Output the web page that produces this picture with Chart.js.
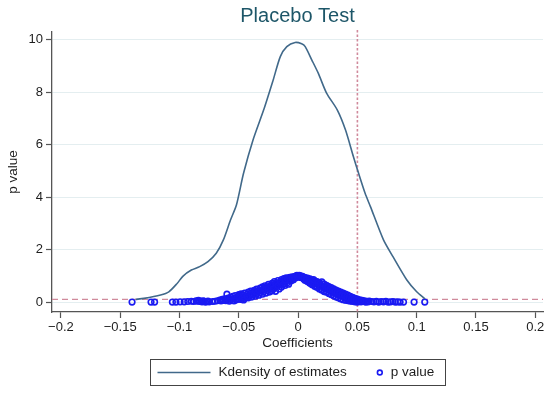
<!DOCTYPE html>
<html>
<head>
<meta charset="utf-8">
<script src="https://cdn.jsdelivr.net/npm/chart.js@4.4.0/dist/chart.umd.min.js"></script>
<style>
  html, body { margin: 0; padding: 0; background: #fff; }
</style>
</head>
<body>
<canvas id="placeboChart" width="550" height="393"></canvas>
<script>
// Kernel density of the placebo estimates
const kdeB = [-0.137, -0.130, -0.116, -0.109, -0.102, -0.097, -0.090, -0.083, -0.076, -0.069,
              -0.063, -0.057, -0.052, -0.046, -0.038, -0.029, -0.021, -0.015, -0.0095, -0.0025,
              0.003, 0.006, 0.0115, 0.017, 0.024, 0.033, 0.040, 0.0466, 0.051, 0.0565,
              0.061, 0.072, 0.080, 0.0917, 0.100, 0.107];
const kdeDensity = [0.10, 0.14, 0.27, 0.39, 0.71, 0.99, 1.22, 1.35, 1.54, 1.86,
                    2.37, 3.13, 3.70, 4.91, 6.18, 7.33, 8.47, 9.36, 9.74, 9.90,
                    9.85, 9.74, 9.24, 8.73, 7.97, 7.33, 6.56, 5.55, 4.91, 4.15,
                    3.64, 2.37, 1.73, 0.84, 0.39, 0.12];

// p values of the placebo estimates
const pB = [-0.140, -0.124, -0.121, -0.106, -0.103, -0.0995, -0.096, -0.093, -0.090, -0.088,
            -0.086, -0.085, -0.084, -0.083, -0.082, -0.081, -0.080, -0.079, -0.078, -0.077,
            -0.076, -0.075, -0.072, -0.070, -0.068, -0.066, -0.065, -0.064, -0.063, -0.062,
            -0.061, -0.060, -0.060, -0.059, -0.058, -0.057, -0.056, -0.055, -0.055, -0.054,
            -0.053, -0.052, -0.051, -0.050, -0.050, -0.049, -0.048, -0.048, -0.047, -0.046,
            -0.045, -0.045, -0.044, -0.043, -0.042, -0.042, -0.041, -0.040, -0.040, -0.039,
            -0.038, -0.037, -0.037, -0.036, -0.035, -0.035, -0.034, -0.033, -0.032, -0.032,
            -0.031, -0.030, -0.030, -0.029, -0.028, -0.028, -0.027, -0.026, -0.026, -0.025,
            -0.024, -0.024, -0.023, -0.022, -0.022, -0.021, -0.020, -0.020, -0.019, -0.018,
            -0.018, -0.017, -0.016, -0.016, -0.015, -0.014, -0.014, -0.013, -0.012, -0.012,
            -0.011, -0.010, -0.010, -0.009, -0.008, -0.008, -0.007, -0.006, -0.006, -0.005,
            -0.004, -0.004, -0.003, -0.002, -0.002, -0.001, 0.000, 0.000, 0.001, 0.002,
            0.002, 0.003, 0.004, 0.004, 0.005, 0.006, 0.006, 0.007, 0.008, 0.008,
            0.009, 0.010, 0.010, 0.011, 0.012, 0.012, 0.013, 0.014, 0.014, 0.015,
            0.016, 0.016, 0.017, 0.018, 0.018, 0.019, 0.020, 0.020, 0.021, 0.022,
            0.022, 0.023, 0.024, 0.024, 0.025, 0.026, 0.026, 0.027, 0.028, 0.028,
            0.029, 0.030, 0.030, 0.031, 0.032, 0.032, 0.033, 0.034, 0.034, 0.035,
            0.036, 0.036, 0.037, 0.038, 0.038, 0.039, 0.040, 0.040, 0.041, 0.042,
            0.042, 0.043, 0.044, 0.044, 0.045, 0.046, 0.046, 0.047, 0.048, 0.048,
            0.049, 0.050, 0.050, 0.051, 0.052, 0.053, 0.054, 0.055, 0.056, 0.057,
            0.058, 0.059, 0.060, 0.062, 0.064, 0.066, 0.068, 0.070, 0.072, 0.074,
            0.076, 0.078, 0.080, 0.082, 0.084, 0.086, 0.0889, 0.0978, 0.1068,
            -0.058, -0.054, -0.050, -0.046, -0.043, -0.039, -0.036, -0.033, -0.029, -0.027,
            -0.025, -0.023, -0.021, -0.019, -0.017, -0.015, -0.013, -0.011, -0.009, -0.007,
            -0.005, -0.003, -0.001, 0.001, 0.003, 0.005, 0.007, 0.009, 0.011, 0.013,
            0.015, 0.017, 0.019, 0.021, 0.023, 0.025, 0.027, 0.029, 0.031, 0.033,
            0.035, 0.037, 0.039, 0.041, 0.043, 0.045, 0.047, 0.049, 0.051, 0.053];
const pVal = [0.00, 0.00, 0.00, 0.00, 0.00, 0.01, 0.01, 0.02, 0.03, 0.02,
              0.05, 0.03, 0.06, 0.02, 0.04, 0.01, 0.05, 0.03, 0.00, 0.02,
              0.04, 0.01, 0.02, 0.03, 0.05, 0.07, 0.04, 0.10, 0.06, 0.12,
              0.05, 0.30, 0.09, 0.15, 0.07, 0.18, 0.11, 0.22, 0.06, 0.14,
              0.25, 0.09, 0.19, 0.28, 0.12, 0.22, 0.31, 0.10, 0.17, 0.26,
              0.34, 0.14, 0.21, 0.29, 0.38, 0.16, 0.24, 0.33, 0.42, 0.19,
              0.27, 0.36, 0.45, 0.22, 0.31, 0.49, 0.40, 0.26, 0.35, 0.53,
              0.44, 0.30, 0.58, 0.39, 0.49, 0.62, 0.34, 0.55, 0.44, 0.67,
              0.38, 0.60, 0.50, 0.71, 0.43, 0.64, 0.55, 0.78, 0.41, 0.68,
              0.60, 0.82, 0.50, 0.73, 0.65, 0.86, 0.57, 0.77, 0.70, 0.89,
              0.63, 0.81, 0.92, 0.74, 0.86, 0.68, 0.94, 0.80, 0.89, 0.96,
              0.85, 0.91, 0.97, 0.93, 0.99, 0.96, 1.00, 0.97, 0.98, 0.94,
              0.99, 0.95, 0.91, 0.97, 0.87, 0.93, 0.82, 0.89, 0.78, 0.91,
              0.85, 0.72, 0.88, 0.80, 0.66, 0.84, 0.75, 0.60, 0.81, 0.70,
              0.55, 0.78, 0.65, 0.50, 0.74, 0.61, 0.45, 0.77, 0.57, 0.40,
              0.68, 0.52, 0.37, 0.64, 0.47, 0.33, 0.59, 0.42, 0.28, 0.55,
              0.38, 0.24, 0.50, 0.34, 0.19, 0.46, 0.30, 0.16, 0.42, 0.26,
              0.12, 0.38, 0.22, 0.09, 0.34, 0.18, 0.07, 0.30, 0.14, 0.05,
              0.26, 0.11, 0.03, 0.22, 0.08, 0.02, 0.18, 0.06, 0.01, 0.14,
              0.04, 0.00, 0.11, 0.03, 0.08, 0.01, 0.06, 0.02, 0.05, 0.00,
              0.03, 0.01, 0.04, 0.02, 0.01, 0.03, 0.00, 0.02, 0.01, 0.03,
              0.00, 0.01, 0.02, 0.00, 0.01, 0.00, 0.00, 0.00, 0.00,
              0.03, 0.04, 0.20, 0.08, 0.20, 0.30, 0.40, 0.45, 0.50, 0.57,
              0.52, 0.62, 0.50, 0.72, 0.62, 0.78, 0.66, 0.84, 0.90, 0.83,
              0.90, 0.92, 1.02, 1.02, 0.99, 0.94, 0.84, 0.76, 0.70, 0.86,
              0.62, 0.74, 0.52, 0.68, 0.60, 0.56, 0.50, 0.46, 0.41, 0.36,
              0.33, 0.28, 0.25, 0.20, 0.16, 0.13, 0.10, 0.07, 0.05, 0.04];

const xTicks = [-0.2, -0.15, -0.1, -0.05, 0, 0.05, 0.1, 0.15, 0.2];
const yTicks = [0, 2, 4, 6, 8, 10];
const refP = 0.1;   // yline
const refB = 0.05;  // xline

const FONT = "'Liberation Sans', Arial, sans-serif";
const TEXT = '#1e1e1e';
const AXIS = '#555555';

function fmtTick(v) {
    if (v === 0) return '0';
    return v < 0 ? '\u2212' + String(-v) : String(v);
}

// dashed reference lines, drawn under the data
const refLines = {
    id: 'refLines',
    beforeDatasetsDraw(chart) {
        const { ctx, chartArea: a, scales: { x, y } } = chart;
        ctx.save();
        ctx.strokeStyle = '#d08a9c';
        ctx.lineWidth = 1.3;
        ctx.setLineDash([6, 4]);
        const py = y.getPixelForValue(refP);
        ctx.beginPath();
        ctx.moveTo(a.left, py);
        ctx.lineTo(a.right, py);
        ctx.stroke();
        ctx.lineWidth = 1.6;
        ctx.setLineDash([2.5, 2]);
        const px = x.getPixelForValue(refB);
        ctx.beginPath();
        ctx.moveTo(px, a.top - 2);
        ctx.lineTo(px, a.bottom);
        ctx.stroke();
        ctx.restore();
    }
};

// Stata style legend: one row in a box below the axis
const boxLegend = {
    id: 'boxLegend',
    afterDraw(chart) {
        const { ctx, chartArea: a } = chart;
        const line = chart.data.datasets[0];
        const pts = chart.data.datasets[1];
        const cx = (a.left + a.right) / 2;
        const w = 295, h = 26;
        const left = Math.round(cx - w / 2) + 0.5;
        const top = chart.height - 34 + 0.5;
        const cy = top + h / 2;

        ctx.save();
        ctx.strokeStyle = '#444';
        ctx.lineWidth = 1;
        ctx.strokeRect(left, top, w, h);

        ctx.font = '13.5px ' + FONT;
        ctx.fillStyle = TEXT;
        ctx.textBaseline = 'middle';

        ctx.strokeStyle = line.borderColor;
        ctx.lineWidth = line.borderWidth;
        ctx.beginPath();
        ctx.moveTo(left + 7, cy);
        ctx.lineTo(left + 60, cy);
        ctx.stroke();
        const t1 = left + 68;
        ctx.fillText(line.label, t1, cy);

        const c = t1 + ctx.measureText(line.label).width + 33;
        ctx.strokeStyle = pts.borderColor;
        ctx.lineWidth = pts.borderWidth;
        ctx.beginPath();
        ctx.arc(c, cy, 2.4, 0, Math.PI * 2);
        ctx.stroke();
        ctx.fillText(pts.label, c + 11, cy);
        ctx.restore();
    }
};

const ctx = document.getElementById('placeboChart').getContext('2d');
const placeboChart = new Chart(ctx, {
    type: 'scatter',
    data: {
        datasets: [{
            label: 'Kdensity of estimates',
            data: kdeB.map((b, i) => ({ x: b, y: kdeDensity[i] })),
            showLine: true,
            borderColor: '#41698a',
            borderWidth: 1.6,
            pointRadius: 0,
            tension: 0.25,
            fill: false
        }, {
            label: 'p value',
            data: pB.map((b, i) => ({ x: b, y: pVal[i] })),
            showLine: false,
            borderColor: '#1a1af2',
            backgroundColor: 'rgba(0,0,0,0)',
            borderWidth: 1.6,
            pointRadius: 2.8,
            pointHoverRadius: 2.8
        }]
    },
    options: {
        responsive: false,
        devicePixelRatio: 1,
        animation: false,
        layout: { padding: { left: 0, right: 7, top: 0, bottom: 41 } },
        plugins: {
            legend: { display: false },
            tooltip: { enabled: false },
            title: {
                display: true,
                text: 'Placebo Test',
                color: '#1d5668',
                fullSize: false,
                font: { family: FONT, size: 20, weight: 'normal' },
                padding: { top: 4, bottom: 4 }
            }
        },
        scales: {
            x: {
                type: 'linear',
                position: 'bottom',
                min: -0.2075,
                max: 0.2065,
                afterBuildTicks: s => { s.ticks = xTicks.map(v => ({ value: v })); },
                afterFit: s => { s.height = 40; },
                ticks: {
                    callback: v => fmtTick(v),
                    color: TEXT,
                    font: { family: FONT, size: 13 },
                    maxRotation: 0,
                    autoSkip: false,
                    padding: 2
                },
                grid: { drawOnChartArea: false, tickLength: 6, tickColor: AXIS, tickWidth: 1.2 },
                border: { color: AXIS, width: 1.3 },
                title: {
                    display: true,
                    text: 'Coefficients',
                    color: TEXT,
                    font: { family: FONT, size: 13.5 },
                    padding: { top: 0, bottom: 1 }
                }
            },
            y: {
                type: 'linear',
                min: -0.38,
                max: 10.3,
                afterBuildTicks: s => { s.ticks = yTicks.map(v => ({ value: v })); },
                afterFit: s => { s.width = 52; },
                ticks: {
                    color: TEXT,
                    font: { family: FONT, size: 13 },
                    padding: 3
                },
                grid: { color: '#e4eef0', lineWidth: 1, tickLength: 6, tickColor: AXIS, tickWidth: 1.2 },
                border: { color: AXIS, width: 1.3 },
                title: {
                    display: true,
                    text: 'p value',
                    color: TEXT,
                    font: { family: FONT, size: 13.5 },
                    padding: { top: 5, bottom: 0 }
                }
            }
        }
    },
    plugins: [refLines, boxLegend]
});
</script>
</body>
</html>
